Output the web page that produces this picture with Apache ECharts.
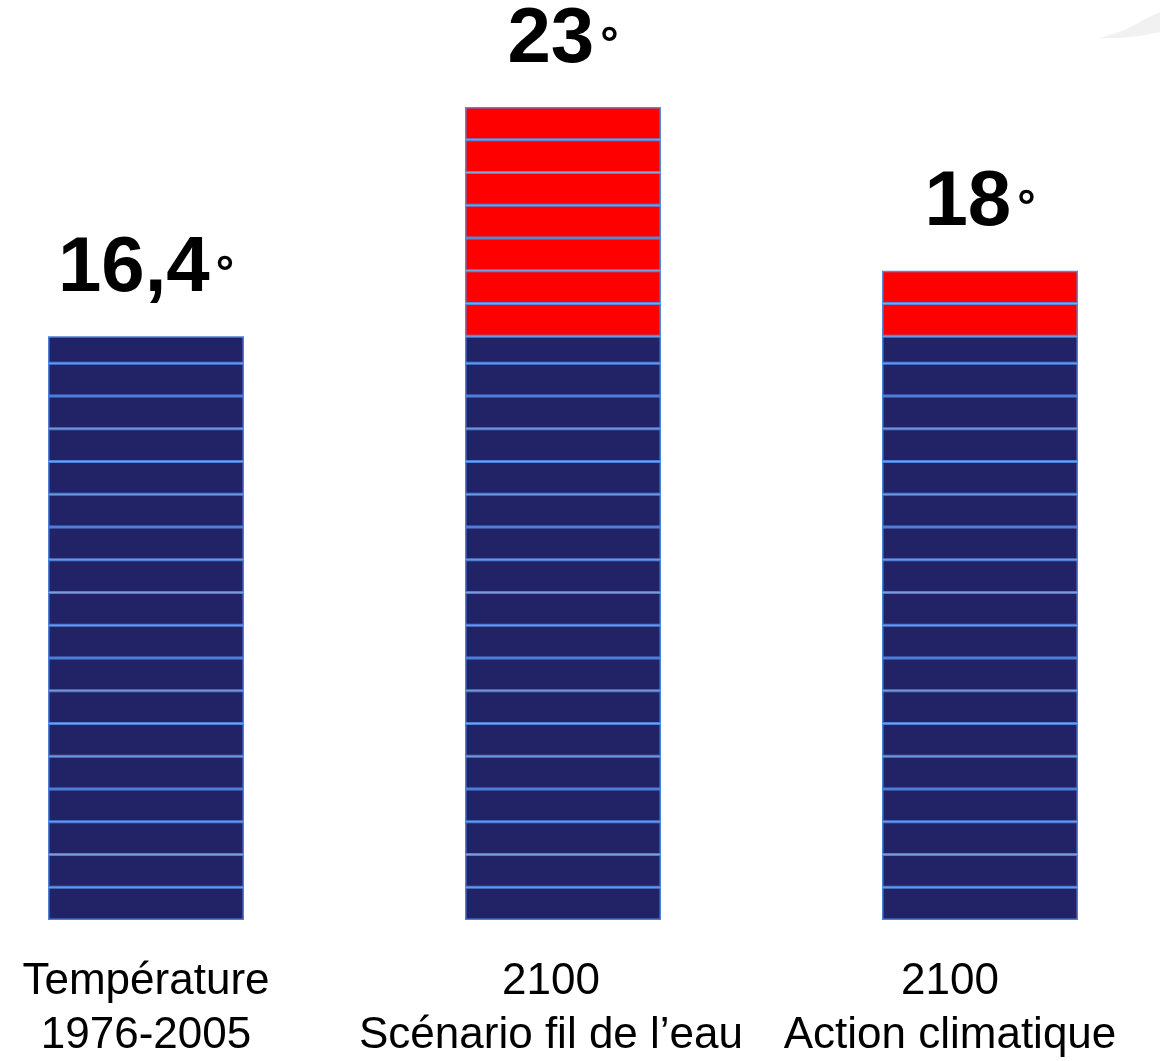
<!DOCTYPE html>
<html>
<head>
<meta charset="utf-8">
<script src="https://cdn.jsdelivr.net/npm/echarts@6/dist/echarts.min.js"></script>
<style>
html,body{margin:0;padding:0;background:#fff;}
#chart{width:1160px;height:1061px;}
</style>
</head>
<body>
<div id="chart"></div>
<script>
// ---- data ----
const categories = ['Température\n1976-2005', '2100\nScénario fil de l\u2019eau', '2100\nAction climatique'];
const temperatureLabels = ['16,4', '23', '18'];
// heights expressed in drawn blocks (each block is one stripe of the bar)
const baseBlocks = [17.83, 17.83, 17.83];   // dark blue part
const extraBlocks = [0, 7, 2];              // red part (warming)

// ---- build stacked layers ----
const series = [];
const blueLayers = Math.ceil(Math.max(...baseBlocks));
for (let i = 0; i < blueLayers; i++) {
  series.push({
    type: 'bar', stack: 't', barWidth: 196, silent: true,
    itemStyle: { color: '#222266', borderColor: '#4d7fd8', borderWidth: 1.5 },
    data: baseBlocks.map(v => { const r = Math.min(1, v - i); return r > 0 ? r : '-'; })
  });
}
const redLayers = Math.ceil(Math.max(...extraBlocks));
for (let j = 0; j < redLayers; j++) {
  series.push({
    type: 'bar', stack: 't', barWidth: 196, silent: true,
    itemStyle: { color: '#ff0000', borderColor: '#5b86d6', borderWidth: 1.5 },
    data: extraBlocks.map(v => { const r = Math.min(1, v - j); return r > 0 ? r : '-'; })
  });
}
const labelOffsets = [0, -12, -30];
series.push({
  type: 'bar', stack: 't', barWidth: 196, silent: true,
  itemStyle: { color: 'rgba(0,0,0,0)', borderWidth: 0 },
  label: {
    show: true, position: 'top', distance: 22,
    formatter: p => '{v|' + temperatureLabels[p.dataIndex] + '}{d|\u00b0}',
    rich: {
      v: { fontSize: 78, fontWeight: 'bold', fontFamily: 'Liberation Sans, Arial, sans-serif', color: '#000', lineHeight: 90 },
      d: { fontSize: 46, fontWeight: 'bold', fontFamily: 'Liberation Sans, Arial, sans-serif', color: '#000', lineHeight: 78, padding: [12, 0, 0, 6] }
    }
  },
  data: categories.map(() => 0)
});

const totals = baseBlocks.map((b, i) => b + extraBlocks[i]);

const chart = echarts.init(document.getElementById('chart'));
chart.setOption({
  animation: false,
  backgroundColor: '#fff',
  grid: { left: 146, right: 180, top: 107, bottom: 141, containLabel: false, outerBoundsMode: 'none' },
  xAxis: {
    type: 'category', data: categories, boundaryGap: false,
    axisLine: { show: false }, axisTick: { show: false },
    axisLabel: {
      margin: 35, interval: 0,
      formatter: (val, idx) => val.split('\n').map(s => '{c' + idx + '|' + s + '}').join('\n'),
      rich: {
        c0: { fontSize: 44, fontFamily: 'Liberation Sans, Arial, sans-serif', color: '#000', lineHeight: 54, padding: [0, -2 * labelOffsets[0], 0, 0] },
        c1: { fontSize: 44, fontFamily: 'Liberation Sans, Arial, sans-serif', color: '#000', lineHeight: 54, padding: [0, -2 * labelOffsets[1], 0, 0] },
        c2: { fontSize: 44, fontFamily: 'Liberation Sans, Arial, sans-serif', color: '#000', lineHeight: 54, padding: [0, -2 * labelOffsets[2], 0, 0] }
      }
    }
  },
  yAxis: {
    type: 'value', min: 0, max: Math.max(...totals),
    show: false, splitLine: { show: false }
  },
  graphic: [{
    type: 'polygon',
    shape: { points: [[1100, 38], [1125, 30], [1145, 19], [1160, 12], [1160, 32], [1140, 36], [1120, 38]] },
    style: { fill: 'rgba(225,225,225,0.45)' },
    silent: true
  }],
  series: series
});
</script>
</body>
</html>
